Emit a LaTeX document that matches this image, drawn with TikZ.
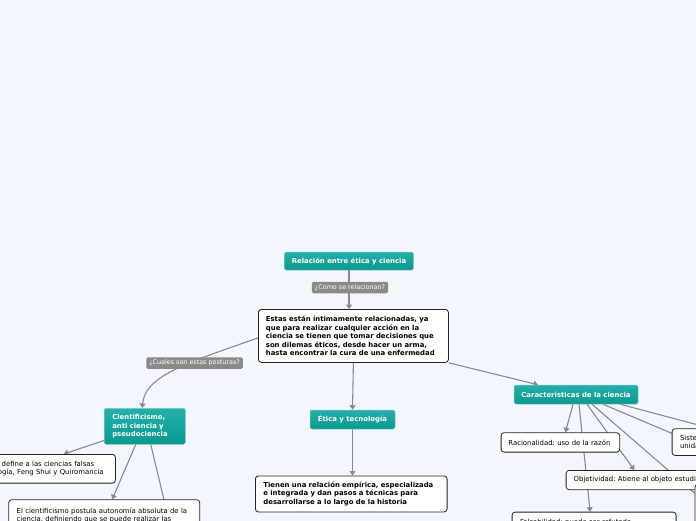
\documentclass[tikz,border=0pt]{standalone}
\usepackage{fontspec}
\setmainfont{DejaVu Sans}
\usetikzlibrary{arrows.meta}
\definecolor{bgc}{RGB}{243,246,253}
\definecolor{tealc}{RGB}{16,163,156}
\definecolor{tealtop}{RGB}{36,176,168}
\definecolor{tealbot}{RGB}{10,152,145}
\definecolor{greyc}{RGB}{138,138,140}
\definecolor{linec}{RGB}{134,137,146}
\definecolor{boxline}{RGB}{35,35,35}
\pgfdeclarelayer{bg}
\pgfsetlayers{bg,main}
\frenchspacing
\begin{document}
\begin{tikzpicture}[x=1pt,y=-1pt,
 tealbox/.style={rounded corners=2pt, top color=tealtop, bottom color=tealbot, draw=tealc!55!white, line width=0.5pt, text=white, font=\fontsize{6.9}{8.6}\selectfont\bfseries, inner sep=0pt},
 lbl/.style={rounded corners=1.5pt, fill=greyc, text=white, font=\fontsize{6.4}{7.5}\selectfont, inner xsep=3pt, inner ysep=1pt, minimum height=11.5pt},
 wbox/.style={rounded corners=3pt, fill=white, draw=boxline, line width=0.8pt, font=\fontsize{6.9}{8.6}\selectfont, align=left, inner xsep=8pt, inner ysep=0pt, anchor=north west},
 boldtext/.style={font=\fontsize{6.9}{8.6}\selectfont\bfseries},
 conn/.style={draw=linec, line width=1.1pt},
 arr/.style={conn, -{Triangle[width=6pt,length=4.5pt]}},
]
\useasboundingbox (0,0) rectangle (696,520);

% nodes
\node[tealbox, minimum width=129pt, minimum height=18pt] (root) at (349,261) {Relación entre ética y ciencia};
\node[wbox, boldtext, text width=175pt, inner xsep=7.5pt, minimum height=53pt] (main) at (258,309)
 {Estas están íntimamente relacionadas, ya\\que para realizar cualquier acción en la\\ciencia se tienen que tomar decisiones que\\son dilemas éticos, desde hacer un arma,\\hasta encontrar la cura de una enfermedad};
\node[tealbox, anchor=north west, minimum width=81pt, minimum height=36pt, text width=65pt, align=left, inner xsep=8pt] (cient) at (104,408) {Cientificismo,\\anti ciencia y\\pseudociencia};
\node[tealbox, minimum width=85pt, minimum height=19pt] (etica) at (352.5,419.5) {Ética y tecnología};
\node[tealbox, minimum width=124pt, minimum height=19pt] (caract) at (576,394.5) {Características de la ciencia};
\node[wbox, boldtext, text width=175.7pt, minimum height=36pt] (tienen) at (255,475.5)
 {Tienen una relación empírica, especializada\\e integrada y dan pasos a técnicas para\\desarrollarse a lo largo de la historia};
\node[wbox, text width=104pt, inner xsep=7.3pt, minimum height=19.4pt] (rac) at (500.7,432.3) {Racionalidad: uso de la razón};
\node[wbox, text width=200pt, inner xsep=7.6pt, minimum height=19.3pt] (obj) at (565.7,470) {Objetividad: Atiene al objeto estudiado};
\node[wbox, text width=148pt, minimum height=20pt] (fals) at (511.7,511.7) {Falsabilidad: puede ser refutada};
\node[wbox, text width=120pt, minimum height=26.7pt] (sis) at (671.7,428.3) {Sistematicidad: forma una\\unidad de conocimientos};
\node[wbox, minimum width=100pt, minimum height=50pt] (far) at (694.5,484) {};
\node[wbox, text width=178pt, minimum height=28.7pt] (pseudo) at (-79,454)
 {La pseudociencia se define a las ciencias falsas\\tales como la Astrología, Feng Shui y Quiromancia};
\node[wbox, text width=175pt, minimum height=40pt] (elc) at (8.3,499.3)
 {El cientificismo postula autonomía absoluta de la\\ciencia, definiendo que se puede realizar las\\investigaciones sin límites};
\coordinate (hid1) at (182,575);
\coordinate (hid2) at (800,452);

% connectors
\begin{pgfonlayer}{bg}
\fill[bgc] (-100,-10) rectangle (900,600);
\draw[arr] (root.south) -- (main.north -| root.south);
\draw[arr] (main.south east) -- ([xshift=-38pt]caract.north);
\draw[arr] (main.south) -- (etica.north);
\draw[arr] (etica.south) -- (tienen.north -| etica.south);
\draw[arr] ([yshift=-2pt]main.west) .. controls (190,362) and (145,375) .. ([xshift=-2.5pt]cient.north);
\draw[arr] ([yshift=4pt]cient.south west) -- ([xshift=-52pt]pseudo.north east);
\draw[arr] ([xshift=-9pt]cient.south) -- ([xshift=8pt]elc.north);
\draw[conn] ([xshift=6pt]cient.south) -- (hid1);
\draw[arr] ([xshift=-3pt]caract.south) -- ([xshift=5pt]rac.north);
\draw[arr] ([xshift=3pt]caract.south) -- ([xshift=-4pt]fals.north);
\draw[arr] ([xshift=11pt]caract.south) -- ([xshift=68.6pt]obj.north west);
\draw[conn] ([xshift=16pt]caract.south) -- ([yshift=-9pt]far.north west);
\draw[conn] ([xshift=27pt]caract.south) -- ([yshift=-5pt]sis.north west);
\draw[conn] ([xshift=-18pt]caract.south east) -- (hid2);
\end{pgfonlayer}

% labels
\node[lbl] (l1) at (350,287.5) {¿Como se relacionan?};
\node[lbl] (l2) at (194.5,363) {¿Cuales son estas posturas?};
\end{tikzpicture}
\end{document}
